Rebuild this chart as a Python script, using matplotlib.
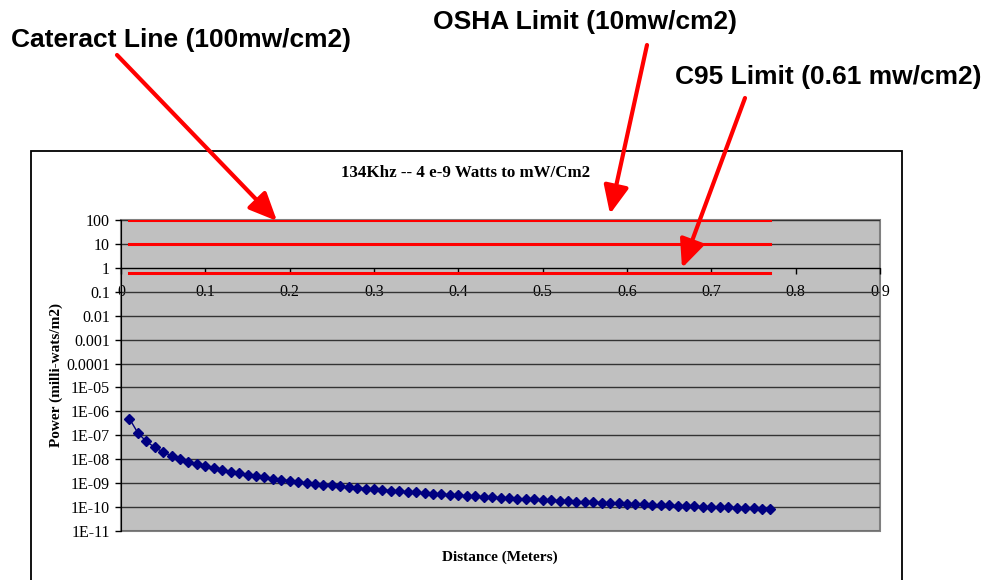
import matplotlib
matplotlib.use("Agg")
import matplotlib.pyplot as plt
from matplotlib.patches import Rectangle, FancyArrowPatch
from matplotlib.ticker import FixedLocator, FixedFormatter

# ---- data ----
distance_m = [0.01, 0.02, 0.03, 0.04, 0.05, 0.06, 0.07, 0.08, 0.09, 0.10,
              0.11, 0.12, 0.13, 0.14, 0.15, 0.16, 0.17, 0.18, 0.19, 0.20,
              0.21, 0.22, 0.23, 0.24, 0.25, 0.26, 0.27, 0.28, 0.29, 0.30,
              0.31, 0.32, 0.33, 0.34, 0.35, 0.36, 0.37, 0.38, 0.39, 0.40,
              0.41, 0.42, 0.43, 0.44, 0.45, 0.46, 0.47, 0.48, 0.49, 0.50,
              0.51, 0.52, 0.53, 0.54, 0.55, 0.56, 0.57, 0.58, 0.59, 0.60,
              0.61, 0.62, 0.63, 0.64, 0.65, 0.66, 0.67, 0.68, 0.69, 0.70,
              0.71, 0.72, 0.73, 0.74, 0.75, 0.76, 0.77]
power = [5.0e-7, 1.25e-7, 5.56e-8, 3.13e-8, 2.0e-8, 1.39e-8, 1.02e-8, 7.81e-9, 6.17e-9, 5.0e-9,
         4.13e-9, 3.47e-9, 2.96e-9, 2.55e-9, 2.22e-9, 1.95e-9, 1.73e-9, 1.54e-9, 1.39e-9, 1.25e-9,
         1.13e-9, 1.03e-9, 9.45e-10, 8.68e-10, 8.0e-10, 7.40e-10, 6.86e-10, 6.38e-10, 5.95e-10, 5.56e-10,
         5.20e-10, 4.88e-10, 4.59e-10, 4.33e-10, 4.08e-10, 3.86e-10, 3.65e-10, 3.46e-10, 3.29e-10, 3.13e-10,
         2.97e-10, 2.83e-10, 2.70e-10, 2.58e-10, 2.47e-10, 2.36e-10, 2.26e-10, 2.17e-10, 2.08e-10, 2.00e-10,
         1.92e-10, 1.85e-10, 1.78e-10, 1.71e-10, 1.65e-10, 1.59e-10, 1.54e-10, 1.49e-10, 1.44e-10, 1.39e-10,
         1.34e-10, 1.30e-10, 1.26e-10, 1.22e-10, 1.18e-10, 1.15e-10, 1.11e-10, 1.08e-10, 1.05e-10, 1.02e-10,
         9.92e-11, 9.65e-11, 9.38e-11, 9.13e-11, 8.89e-11, 8.66e-11, 8.43e-11]
limit_values = [100, 10, 0.61]
limit_names = ["Cateract Line (100mw/cm2)", "OSHA Limit (10mw/cm2)", "C95 Limit (0.61 mw/cm2)"]
y_ticks = [100, 10, 1, 0.1, 0.01, 0.001, 0.0001, 1e-5, 1e-6, 1e-7, 1e-8, 1e-9, 1e-10, 1e-11]
y_tick_labels = ["100", "10", "1", "0.1", "0.01", "0.001", "0.0001", "1E-05", "1E-06",
                 "1E-07", "1E-08", "1E-09", "1E-10", "1E-11"]
x_ticks = [0, 0.1, 0.2, 0.3, 0.4, 0.5, 0.6, 0.7, 0.8, 0.9]
x_tick_labels = ["0", "0.1", "0.2", "0.3", "0.4", "0.5", "0.6", "0.7", "0.8", "0.9"]
title = "134Khz -- 4 e-9 Watts to mW/Cm2"
x_label = "Distance (Meters)"
y_label = "Power (milli-wats/m2)"

W, H = 992, 580
serif = "Liberation Serif"
sans = "Liberation Sans"

fig = plt.figure(figsize=(W / 100, H / 100), dpi=100)
fig.patch.set_facecolor("white")

def fx(px):
    return px / W

def fy(py):
    return 1 - py / H

# outer chart frame
fig.add_artist(Rectangle((fx(31), -0.02), fx(902) - fx(31), fy(151) + 0.02,
                         transform=fig.transFigure, fill=False, edgecolor="black", lw=1.3))

ax = fig.add_axes([fx(121), fy(531), fx(880) - fx(121), fy(220) - fy(531)])
ax.set_facecolor("#C0C0C0")
ax.set_yscale("log")
ax.set_ylim(1e-11, 100)
ax.set_xlim(0, 0.9)

ax.yaxis.set_major_locator(FixedLocator(y_ticks))
ax.yaxis.set_major_formatter(FixedFormatter(y_tick_labels))
ax.yaxis.set_minor_locator(FixedLocator([]))
ax.tick_params(axis="y", direction="out", length=4, width=1, colors="black",
               labelsize=11.5, pad=4)
for lab in ax.get_yticklabels():
    lab.set_fontfamily(serif)
ax.grid(axis="y", color="#333333", lw=1)

ax.xaxis.set_major_locator(FixedLocator(x_ticks))
ax.xaxis.set_minor_locator(FixedLocator([]))
ax.tick_params(axis="x", direction="out", length=4, width=1, colors="black",
               labelbottom=False)
ax.spines["bottom"].set_position(("data", 1))
ax.spines["bottom"].set_color("black")
ax.spines["left"].set_color("black")
ax.spines["top"].set_visible(False)
ax.spines["right"].set_visible(False)

# gray plot-area border (top, right, bottom)
ax.add_patch(Rectangle((0, 0), 1, 1, transform=ax.transAxes, fill=False,
                       edgecolor="#808080", lw=1.5, zorder=1.4, clip_on=False))

for xv, xl in zip(x_ticks, x_tick_labels):
    ax.text(xv, 0.1, xl, ha="center", va="center", fontsize=11.5, family=serif,
            zorder=1, clip_on=False)

# limit lines
for lv in limit_values:
    ax.plot([distance_m[0], distance_m[-1]], [lv, lv], color="#FF0000", lw=2.2, zorder=3)

# data
ax.plot(distance_m, power, color="#000080", lw=1, marker="D", ms=5.5,
        markerfacecolor="#000080", markeredgecolor="#000080", zorder=4)

# titles
fig.text(fx(466), fy(173), title, ha="center", va="center", fontsize=12.2,
         family=serif, weight="bold")
fig.text(fx(500), fy(557), x_label, ha="center", va="center", fontsize=11,
         family=serif, weight="bold")
fig.text(fx(56), fy(375), y_label, ha="center", va="center", fontsize=11,
         family=serif, weight="bold", rotation=90)

# annotations
ann_text_pos = [(11, 40, "left"), (433, 22, "left"), (675, 77, "left")]
arrow_start = [(117, 55), (647, 45), (745, 98)]
arrow_end = [(277, 221), (610, 214), (682, 268)]
for name, (tx, ty, ha), (sx, sy), (ex, ey) in zip(limit_names, ann_text_pos, arrow_start, arrow_end):
    fig.text(fx(tx), fy(ty), name, ha=ha, va="center", fontsize=19,
             family=sans, weight="bold")
    fig.add_artist(FancyArrowPatch(
        (fx(sx), fy(sy)), (fx(ex), fy(ey)), transform=fig.transFigure,
        arrowstyle="-|>,head_length=0.85,head_width=0.38", mutation_scale=20,
        color="#FF0000", lw=3, shrinkA=0, shrinkB=0))

fig.savefig("out.png", dpi=100)
